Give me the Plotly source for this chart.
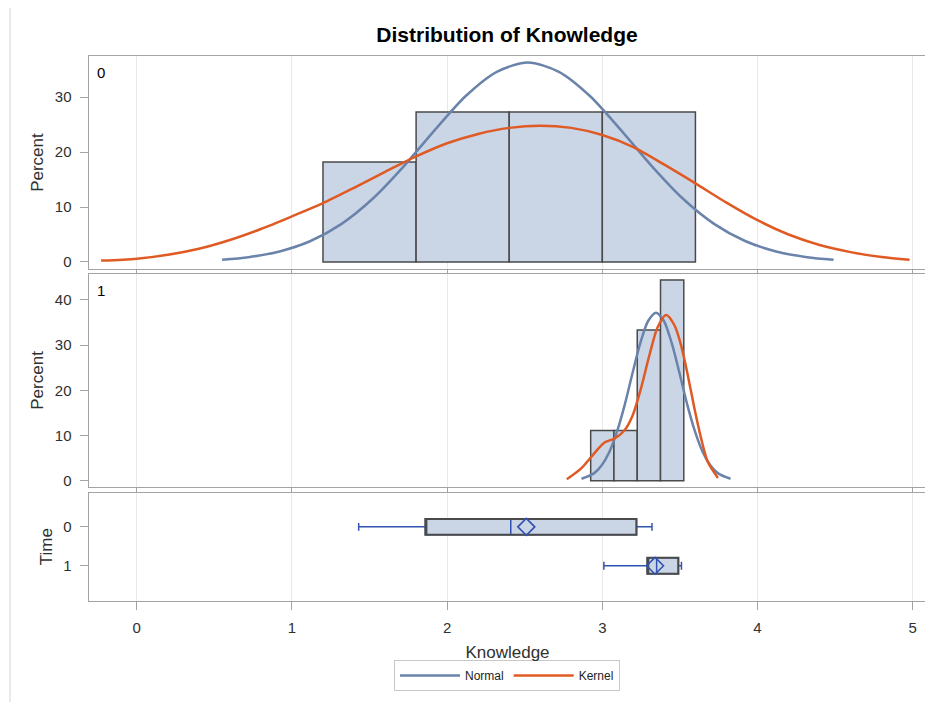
import plotly.graph_objects as go

# ---------------- data ----------------
# Histogram, Time = 0
bins0_center = [1.5, 2.1, 2.7, 3.3]
bins0_width = 0.6
bins0_pct = [18.18, 27.27, 27.27, 27.27]

# Histogram, Time = 1
bins1_center = [3.0, 3.15, 3.3, 3.45]
bins1_width = 0.15
bins1_pct = [11.11, 11.11, 33.33, 44.44]

# Normal curve, Time = 0
norm0_x = [0.55, 0.72, 0.92, 1.12, 1.32, 1.52, 1.72, 1.92, 2.12, 2.32, 2.52, 2.72,
           2.92, 3.12, 3.32, 3.52, 3.72, 3.92, 4.12, 4.32, 4.49]
norm0_y = [0.42, 0.88, 1.92, 3.82, 6.94, 11.5, 17.4, 24.0, 30.2, 34.6, 36.3, 34.6,
           30.2, 24.0, 17.4, 11.5, 6.94, 3.82, 1.92, 0.88, 0.42]

# Kernel curve, Time = 0
kern0_x = [-0.23, 0.0, 0.2, 0.4, 0.6, 0.8, 1.0, 1.2, 1.4, 1.6, 1.8, 2.0, 2.2, 2.4,
           2.6, 2.8, 3.0, 3.2, 3.4, 3.6, 3.8, 4.0, 4.2, 4.4, 4.6, 4.8, 4.98]
kern0_y = [0.25, 0.6, 1.3, 2.4, 4.0, 6.0, 8.3, 10.7, 13.5, 16.4, 19.2, 21.6, 23.3, 24.4,
           24.8, 24.4, 23.1, 20.9, 17.7, 14.3, 10.8, 7.6, 5.0, 3.1, 1.8, 0.9, 0.4]

# Normal curve, Time = 1
norm1_x = [2.866, 2.946, 2.996, 3.046, 3.096, 3.146, 3.196, 3.246, 3.296, 3.346,
           3.396, 3.446, 3.496, 3.546, 3.596, 3.646, 3.696, 3.746, 3.826]
norm1_y = [0.41, 1.6, 3.4, 6.4, 11.0, 17.0, 24.0, 30.6, 35.4, 37.2,
           35.4, 30.6, 24.0, 17.0, 11.0, 6.4, 3.4, 1.6, 0.41]

# Kernel curve, Time = 1
kern1_x = [2.771, 2.862, 2.937, 3.012, 3.077, 3.142, 3.196, 3.249, 3.303, 3.357,
           3.411, 3.465, 3.508, 3.551, 3.594, 3.637, 3.680, 3.745]
kern1_y = [0.3, 2.65, 5.6, 8.4, 9.3, 11.1, 14.5, 20.4, 27.7, 34.0,
           36.7, 34.4, 29.9, 23.3, 15.9, 9.3, 4.1, 0.6]

# Box plot summary by Time
box_time = ["0", "1"]
box_min = [1.43, 3.01]
box_q1 = [1.86, 3.29]
box_median = [2.41, 3.35]
box_mean = [2.51, 3.34]
box_q3 = [3.22, 3.49]
box_max = [3.32, 3.51]

x_ticks = [0, 1, 2, 3, 4, 5]

# ---------------- style ----------------
W, H = 933, 702
OX, OY = 8, 8          # page body margin offset
FONT = "Liberation Sans, Arial, sans-serif"
BAR_FILL = "#CAD5E6"
BAR_LINE = "#4A4A4A"
NORMAL_C = "#6A83AA"
KERNEL_C = "#E05A24"
BOX_BLUE = "#3152B0"
AXIS_C = "#A3A3A3"
GRID_C = "#E9E9E9"
TEXT_C = "#303030"
TICK_SZ = 15
AXT_SZ = 17


def px(p):
    return (p - OX) / W


def py(p):
    return 1 - (p - OY) / H


x_dom = [px(88.5), px(926.5)]
x_rng = [-0.311, 5.089]

fig = go.Figure()

# Panel 1
fig.add_trace(go.Bar(x=bins0_center, y=bins0_pct, width=bins0_width,
                     marker=dict(color=BAR_FILL, line=dict(color=BAR_LINE, width=1.5)),
                     showlegend=False, xaxis="x", yaxis="y"))
fig.add_trace(go.Scatter(x=norm0_x, y=norm0_y, mode="lines", name="Normal",
                         line=dict(color=NORMAL_C, width=2.5, shape="spline", smoothing=0.8),
                         legendrank=1, xaxis="x", yaxis="y"))
fig.add_trace(go.Scatter(x=kern0_x, y=kern0_y, mode="lines", name="Kernel",
                         line=dict(color=KERNEL_C, width=2.5, shape="spline", smoothing=0.8),
                         legendrank=2, xaxis="x", yaxis="y"))

# Panel 2
fig.add_trace(go.Bar(x=bins1_center, y=bins1_pct, width=bins1_width,
                     marker=dict(color=BAR_FILL, line=dict(color=BAR_LINE, width=1.5)),
                     showlegend=False, xaxis="x2", yaxis="y2"))
fig.add_trace(go.Scatter(x=norm1_x, y=norm1_y, mode="lines", name="Normal",
                         line=dict(color=NORMAL_C, width=2.5, shape="spline", smoothing=0.8),
                         showlegend=False, xaxis="x2", yaxis="y2"))
fig.add_trace(go.Scatter(x=kern1_x, y=kern1_y, mode="lines", name="Kernel",
                         line=dict(color=KERNEL_C, width=2.5, shape="spline", smoothing=0.8),
                         showlegend=False, xaxis="x2", yaxis="y2"))

# Panel 3: box plots
for i, t in enumerate(box_time):
    fig.add_trace(go.Box(y=[t], q1=[box_q1[i]], median=[box_median[i]], q3=[box_q3[i]],
                         lowerfence=[box_min[i]], upperfence=[box_max[i]],
                         orientation="h", width=0.41, whiskerwidth=0.5,
                         fillcolor=BAR_FILL, line=dict(color=BOX_BLUE, width=1.5),
                         boxpoints=False, showlegend=False, hoverinfo="skip",
                         xaxis="x3", yaxis="y3"))
    # dark outline of the box drawn over it
    fig.add_trace(go.Box(y=[t], q1=[box_q1[i]], median=[box_q1[i]], q3=[box_q3[i]],
                         lowerfence=[box_q1[i]], upperfence=[box_q3[i]],
                         orientation="h", width=0.41, whiskerwidth=0,
                         fillcolor="rgba(0,0,0,0)", line=dict(color=BAR_LINE, width=2),
                         boxpoints=False, showlegend=False, hoverinfo="skip",
                         xaxis="x3", yaxis="y3"))
fig.add_trace(go.Scatter(x=box_mean, y=box_time, mode="markers",
                         marker=dict(symbol="diamond-open", size=13, color=BOX_BLUE,
                                     line=dict(width=1.6, color=BOX_BLUE)),
                         showlegend=False, xaxis="x3", yaxis="y3"))

xcommon = dict(range=x_rng, domain=x_dom, showgrid=True, gridcolor=GRID_C, gridwidth=1,
               tickvals=x_ticks, zeroline=False, showline=True, linecolor=AXIS_C,
               linewidth=1, mirror=True, ticks="outside", tickcolor=AXIS_C, ticklen=8)
ycommon = dict(showgrid=False, zeroline=False, showline=True, linecolor=AXIS_C,
               linewidth=1, mirror=True, ticks="outside", tickcolor=AXIS_C, ticklen=8,
               ticklabelstandoff=5,
               tickfont=dict(size=TICK_SZ, color=TEXT_C, family=FONT),
               title=dict(font=dict(size=AXT_SZ, color=TEXT_C, family=FONT), standoff=6))

fig.update_layout(
    width=W, height=H,
    margin=dict(l=0, r=0, t=0, b=0),
    paper_bgcolor="white", plot_bgcolor="white",
    font=dict(family=FONT, color=TEXT_C, size=13),
    barmode="overlay", boxmode="overlay",
    title=dict(text="<b>Distribution of Knowledge</b>", x=px(507), xanchor="center",
               y=py(35), yanchor="middle", font=dict(size=21, color="black", family=FONT)),
    xaxis=dict(**xcommon, anchor="y", showticklabels=False, matches="x3"),
    xaxis2=dict(**xcommon, anchor="y2", showticklabels=False, matches="x3"),
    xaxis3=dict(**xcommon, anchor="y3", showticklabels=True, ticklabelstandoff=5,
                tickfont=dict(size=TICK_SZ, color=TEXT_C, family=FONT),
                title=dict(text="Knowledge", font=dict(size=AXT_SZ, color=TEXT_C, family=FONT),
                           standoff=11)),
    yaxis=dict(**ycommon, domain=[py(270), py(56)], range=[-1.32, 37.5],
               tickvals=[0, 10, 20, 30], anchor="x"),
    yaxis2=dict(**ycommon, domain=[py(488), py(275)], range=[-1.33, 45.7],
                tickvals=[0, 10, 20, 30, 40], anchor="x2"),
    yaxis3=dict(**ycommon, domain=[py(602.5), py(494)], type="category",
                categoryorder="array", categoryarray=box_time, range=[1.9, -0.88],
                anchor="x3"),
    legend=dict(orientation="h", x=px(507), xanchor="center", y=py(677.5), yanchor="middle",
                bordercolor="#C8C8C8", borderwidth=1, bgcolor="white",
                font=dict(size=12, color="#222222", family=FONT), itemwidth=60,
                tracegroupgap=0),
    showlegend=True,
)
fig.layout.yaxis.title.text = "Percent"
fig.layout.yaxis2.title.text = "Percent"
fig.layout.yaxis3.title.text = "Time"

fig.add_annotation(text="0", x=px(95), y=py(62), xref="paper", yref="paper",
                   xanchor="left", yanchor="top", showarrow=False,
                   font=dict(size=15, color="black", family=FONT))
fig.add_annotation(text="1", x=px(95), y=py(281), xref="paper", yref="paper",
                   xanchor="left", yanchor="top", showarrow=False,
                   font=dict(size=15, color="black", family=FONT))

# outer frame
fig.add_shape(type="rect", xref="paper", yref="paper", x0=px(10), x1=1.05,
              y0=-0.05, y1=py(6), line=dict(color="#D4D4D4", width=1), layer="below")

fig.write_html("out.html")
